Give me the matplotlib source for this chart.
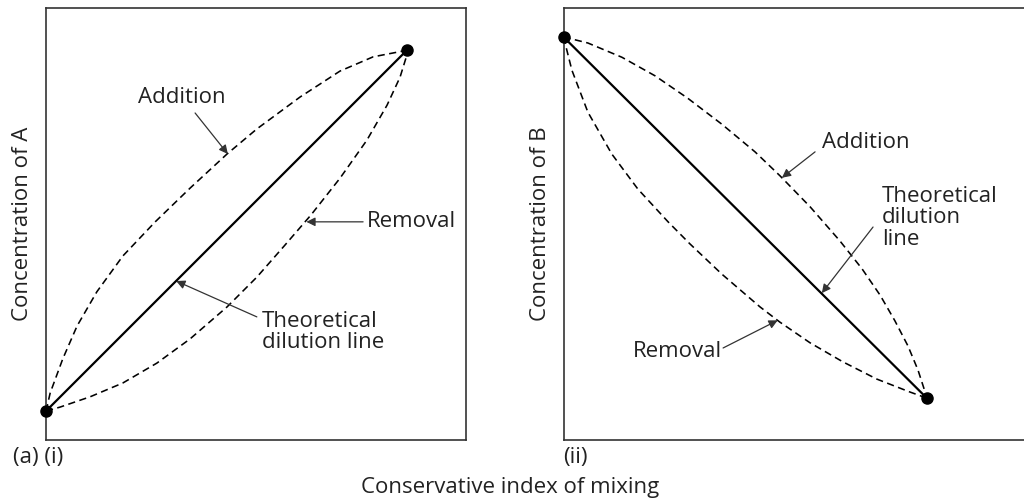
import matplotlib
matplotlib.use('Agg')
import matplotlib.pyplot as plt

plt.rcParams['font.family'] = ['Open Sans', 'DejaVu Sans']
plt.rcParams['font.size'] = 16

# end members (x = conservative index, y = concentration), arbitrary units
a_ends_x = [0.0, 8.6]
a_ends_y = [0.67, 9.03]
b_ends_x = [0.0, 8.65]
b_ends_y = [9.33, 0.97]

# panel (i): concentration of A
a_add_x = [0, 0.1, 0.4, 0.74, 1.21, 1.83, 2.6, 3.43, 4.31, 5.02, 6.05, 7.0, 7.79, 8.43, 8.6]
a_add_y = [0.67, 1.09, 1.88, 2.64, 3.43, 4.26, 5.05, 5.83, 6.62, 7.2, 7.94, 8.54, 8.87, 8.99, 9.03]
a_rem_x = [0, 0.33, 1.05, 1.83, 2.64, 3.43, 4.31, 5.02, 5.67, 6.31, 7.0, 7.64, 8.12, 8.43, 8.57, 8.6]
a_rem_y = [0.67, 0.76, 1.0, 1.32, 1.78, 2.34, 3.08, 3.77, 4.49, 5.21, 6.06, 6.94, 7.75, 8.4, 8.84, 9.03]

# panel (ii): concentration of B
b_add_x = [0, 0.58, 1.39, 2.18, 2.96, 3.77, 4.56, 5.15, 5.87, 6.58, 7.11, 7.54, 7.89, 8.2, 8.44, 8.58, 8.65]
b_add_y = [9.33, 9.19, 8.86, 8.43, 7.91, 7.31, 6.67, 6.12, 5.4, 4.61, 3.96, 3.35, 2.76, 2.18, 1.62, 1.2, 0.97]
b_rem_x = [0, 0.2, 0.58, 1.15, 1.77, 2.49, 3.01, 3.77, 4.68, 5.15, 5.87, 6.65, 7.46, 8.25, 8.65]
b_rem_y = [9.33, 8.56, 7.59, 6.62, 5.81, 5.05, 4.54, 3.84, 3.08, 2.73, 2.25, 1.81, 1.41, 1.11, 0.97]

txt = '#222222'
arrow_kw = dict(arrowstyle='-|>', color='#333333', lw=0.9, mutation_scale=13,
                shrinkA=0, shrinkB=0)

fig = plt.figure(figsize=(10.24, 5.0), dpi=100)
ax1 = fig.add_axes([46 / 1024, 60 / 500, 420 / 1024, 432 / 500])
ax2 = fig.add_axes([563.5 / 1024, 60 / 500, 470 / 1024, 432 / 500])

ax1.set_xlim(0, 10)
ax2.set_xlim(0, 470 / 42)
for ax in (ax1, ax2):
    ax.set_ylim(0, 10)
    ax.set_xticks([])
    ax.set_yticks([])
    for s in ax.spines.values():
        s.set_color('#333333')
        s.set_linewidth(1.2)
ax2.spines['right'].set_visible(False)


def draw(ax, ex, ey, ux, uy, lx, ly):
    ax.plot(ux, uy, color='black', lw=1.15, dashes=(4.5, 2.8), clip_on=False)
    ax.plot(lx, ly, color='black', lw=1.15, dashes=(4.5, 2.8), clip_on=False)
    ax.plot(ex, ey, color='black', lw=1.6, solid_capstyle='round', clip_on=False)
    ax.plot(ex, ey, 'o', color='black', ms=8, lw=0, clip_on=False, zorder=4)


draw(ax1, a_ends_x, a_ends_y, a_add_x, a_add_y, a_rem_x, a_rem_y)
draw(ax2, b_ends_x, b_ends_y, b_add_x, b_add_y, b_rem_x, b_rem_y)

# labels, panel (i)
ax1.text(3.24, 7.92, 'Addition', ha='center', va='center', color=txt)
ax1.annotate('', xy=(4.33, 6.62), xytext=(3.55, 7.57), arrowprops=arrow_kw)
ax1.text(7.64, 5.05, 'Removal', ha='left', va='center', color=txt)
ax1.annotate('', xy=(6.2, 5.05), xytext=(7.55, 5.05), arrowprops=arrow_kw)
ax1.text(5.14, 2.5, 'Theoretical\ndilution line', ha='left', va='center',
         color=txt, linespacing=1.05)
ax1.annotate('', xy=(3.1, 3.68), xytext=(5.02, 2.85), arrowprops=arrow_kw)

# labels, panel (ii)
ax2.text(6.15, 6.88, 'Addition', ha='left', va='center', color=txt)
ax2.annotate('', xy=(5.2, 6.07), xytext=(5.99, 6.67), arrowprops=arrow_kw)
ax2.text(7.58, 5.14, 'Theoretical\ndilution\nline', ha='left', va='center',
         color=txt, linespacing=1.05)
ax2.annotate('', xy=(6.15, 3.4), xytext=(7.37, 4.93), arrowprops=arrow_kw)
ax2.text(1.65, 2.04, 'Removal', ha='left', va='center', color=txt)
ax2.annotate('', xy=(5.1, 2.77), xytext=(3.8, 2.13), arrowprops=arrow_kw)

fig.text(23 / 1024, 1 - 224 / 500, 'Concentration of A', rotation=90,
         ha='center', va='center', color=txt)
fig.text(540 / 1024, 1 - 224 / 500, 'Concentration of B', rotation=90,
         ha='center', va='center', color=txt)
fig.text(13 / 1024, 1 - 458 / 500, '(a) (i)', ha='left', va='center', color=txt)
fig.text(563 / 1024, 1 - 458 / 500, '(ii)', ha='left', va='center', color=txt)
fig.text(510 / 1024, 1 - 488 / 500, 'Conservative index of mixing',
         ha='center', va='center', color=txt)

fig.savefig('out.png', dpi=100, facecolor='white')
